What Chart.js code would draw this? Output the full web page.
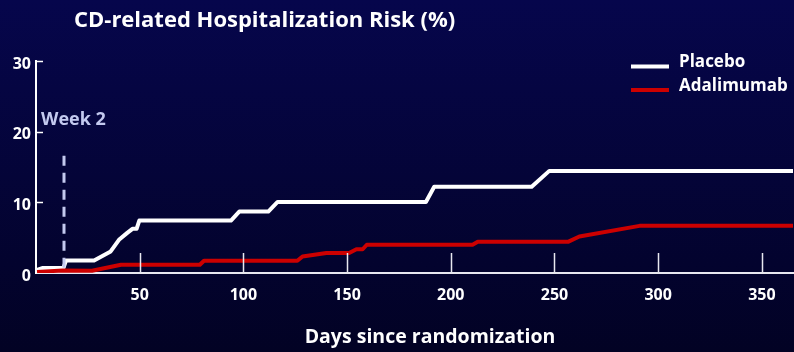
<!DOCTYPE html>
<html>
<head>
<meta charset="utf-8">
<script src="https://cdn.jsdelivr.net/npm/chart.js@4"></script>
<style>
  html, body { margin: 0; padding: 0; }
  body { width: 794px; height: 352px; background: linear-gradient(#06064c, #020224); overflow: hidden; }
  canvas { display: block; }
</style>
</head>
<body>
<canvas id="riskChart" width="794" height="352"></canvas>
<script>
const chartTitle = "CD-related Hospitalization Risk (%)";
const xAxisTitle = "Days since randomization";
const weekTwoLabel = "Week 2";
const weekTwoDay = 13.5;
const weekTwoTop = 16.6;

const xTickValues = [50, 100, 150, 200, 250, 300, 350];
const yTickValues = [0, 10, 20, 30];

const placeboDays = [0.5, 3, 13.2, 14.5, 28, 36, 40, 44, 46.5, 48.5, 49.8, 94, 98, 112, 116.5, 188, 192, 239, 247.5, 365];
const placeboRisk = [0.45, 0.7, 0.7, 1.78, 1.78, 3.05, 4.7, 5.68, 6.25, 6.25, 7.42, 7.42, 8.69, 8.69, 10.05, 10.05, 12.2, 12.2, 14.45, 14.45];

const adaDays = [0.5, 13, 27, 41, 79, 81, 126, 128.5, 140, 151, 154.5, 157.5, 159.5, 210.5, 213, 256.5, 262, 291, 365];
const adaRisk = [0.14, 0.37, 0.32, 1.17, 1.17, 1.73, 1.73, 2.34, 2.82, 2.82, 3.36, 3.36, 4.0, 4.0, 4.41, 4.41, 5.16, 6.67, 6.67];

const FONT = "'Open Sans'";

function toPoints(xs, ys) {
    return xs.map((x, i) => ({ x: x, y: ys[i] }));
}

const extras = {
    id: "extras",
    afterDraw(chart) {
        const ctx = chart.ctx;
        const x = chart.scales.x;
        const y = chart.scales.y;
        const area = chart.chartArea;
        ctx.save();

        // x ticks point up into the plot
        ctx.strokeStyle = "#e8e8f0";
        ctx.lineWidth = 1.5;
        xTickValues.forEach(v => {
            const px = Math.round(x.getPixelForValue(v)) + 0.5;
            ctx.beginPath();
            ctx.moveTo(px, area.bottom - 1);
            ctx.lineTo(px, area.bottom - 20);
            ctx.stroke();
        });

        // y ticks to the right of the axis
        ctx.strokeStyle = "#ffffff";
        yTickValues.slice(1).forEach(v => {
            const py = Math.round(y.getPixelForValue(v)) + 0.5;
            ctx.beginPath();
            ctx.moveTo(area.left, py);
            ctx.lineTo(area.left + 7, py);
            ctx.stroke();
        });

        // week 2 marker
        const wx = x.getPixelForValue(weekTwoDay);
        ctx.strokeStyle = "#c3c9ef";
        ctx.lineWidth = 3;
        ctx.setLineDash([10, 7]);
        ctx.beginPath();
        ctx.moveTo(wx, y.getPixelForValue(weekTwoTop));
        ctx.lineTo(wx, area.bottom);
        ctx.stroke();
        ctx.setLineDash([]);

        ctx.fillStyle = "#c3c9ef";
        ctx.font = "bold 18px " + FONT;
        ctx.textBaseline = "middle";
        ctx.textAlign = "left";
        ctx.fillText(weekTwoLabel, 41, 120);

        // title
        ctx.fillStyle = "#ffffff";
        ctx.font = "bold 22px " + FONT;
        ctx.fillText(chartTitle, 74, 21);

        // x axis title
        ctx.font = "bold 19.5px " + FONT;
        ctx.textAlign = "center";
        ctx.fillText(xAxisTitle, 430, 337);

        // legend
        ctx.textAlign = "left";
        ctx.font = "bold 17px " + FONT;
        const rows = [66.5, 90];
        chart.data.datasets.forEach((ds, i) => {
            ctx.strokeStyle = ds.borderColor;
            ctx.lineWidth = 4;
            ctx.beginPath();
            ctx.moveTo(631, rows[i]);
            ctx.lineTo(669, rows[i]);
            ctx.stroke();
            ctx.fillStyle = "#ffffff";
            ctx.fillText(ds.label, 679, rows[i] - 4);
        });

        ctx.restore();
    }
};

new Chart(document.getElementById("riskChart"), {
    type: "line",
    data: {
        datasets: [{
            label: "Placebo",
            data: toPoints(placeboDays, placeboRisk),
            borderColor: "#ffffff",
            borderWidth: 4,
            order: 1
        }, {
            label: "Adalimumab",
            data: toPoints(adaDays, adaRisk),
            borderColor: "#cc0000",
            borderWidth: 4,
            order: 0
        }]
    },
    options: {
        responsive: false,
        animation: false,
        layout: { padding: { top: 61, right: 1, left: 0, bottom: 0 } },
        elements: {
            point: { radius: 0 },
            line: { tension: 0, borderJoinStyle: "round", borderCapStyle: "butt" }
        },
        plugins: {
            legend: { display: false },
            tooltip: { enabled: false }
        },
        scales: {
            x: {
                type: "linear",
                min: 0,
                max: 365,
                afterFit(s) { s.height = 79; },
                afterBuildTicks(s) { s.ticks = xTickValues.map(v => ({ value: v })); },
                grid: { display: false, drawTicks: false },
                border: { display: true, color: "#e8e8f0", width: 2 },
                ticks: {
                    color: "#ffffff",
                    padding: 13,
                    maxRotation: 0,
                    font: { family: "Open Sans", size: 16, weight: "bold" }
                }
            },
            y: {
                min: 0,
                max: 30,
                afterFit(s) { s.width = 36; },
                afterBuildTicks(s) { s.ticks = yTickValues.map(v => ({ value: v })); },
                grid: { display: false, drawTicks: false },
                border: { display: true, color: "#ffffff", width: 2 },
                ticks: {
                    color: "#ffffff",
                    padding: 5,
                    labelOffset: 3,
                    font: { family: "Open Sans", size: 16, weight: "bold" }
                }
            }
        }
    },
    plugins: [extras]
});
</script>
</body>
</html>
